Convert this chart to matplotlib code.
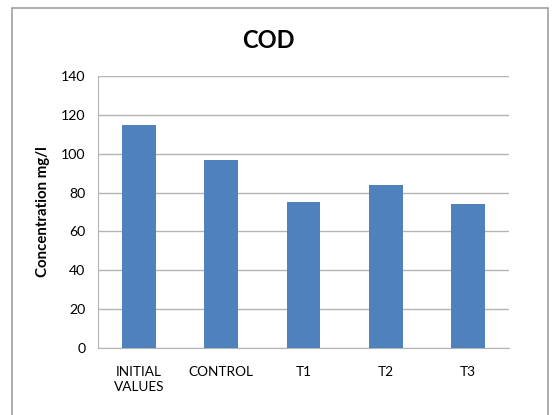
import matplotlib.pyplot as plt
from matplotlib.patches import Rectangle
import numpy as np

plt.rcParams['font.family'] = ['Lato', 'DejaVu Sans']

categories = ['INITIAL\nVALUES', 'CONTROL', 'T1', 'T2', 'T3']
cod_values = [115, 97, 75, 84, 74]
y_ticks = [0, 20, 40, 60, 80, 100, 120, 140]

bar_colour = '#4F81BD'
grid_colour = '#B4B4B4'

fig = plt.figure(figsize=(5.52, 4.15), dpi=100)

# outer chart frame
fig.patches.append(Rectangle((12 / 552, -0.01), 536 / 552, 1 - 8 / 415 + 0.01,
                             transform=fig.transFigure, fill=False,
                             edgecolor='#A0A0A0', linewidth=1.2))

ax = fig.add_axes([98 / 552, 1 - 348 / 415, 411 / 552, 272 / 415])
x = np.arange(len(categories))
ax.bar(x, cod_values, width=0.41, color=bar_colour, zorder=3)

ax.set_xlim(-0.5, len(categories) - 0.5)
ax.set_ylim(0, 140)
ax.set_yticks(y_ticks)
ax.set_xticks(x)
ax.set_xticklabels(categories, fontsize=9.8, linespacing=1.3)
ax.tick_params(axis='x', length=0, pad=13)
ax.tick_params(axis='y', length=0, pad=9, labelsize=10.2)
ax.grid(axis='y', color=grid_colour, linewidth=1, zorder=0)

for side in ['top', 'right']:
    ax.spines[side].set_visible(False)
ax.spines['left'].set_color(grid_colour)
ax.spines['bottom'].set_color(grid_colour)

ax.set_ylabel('Concentration mg/l', fontsize=10.8, fontweight='bold', labelpad=8)
fig.text(268 / 552, 1 - 41 / 415, 'COD', fontsize=17, fontweight='bold',
         ha='center', va='center')

plt.savefig('out.png', dpi=100)
